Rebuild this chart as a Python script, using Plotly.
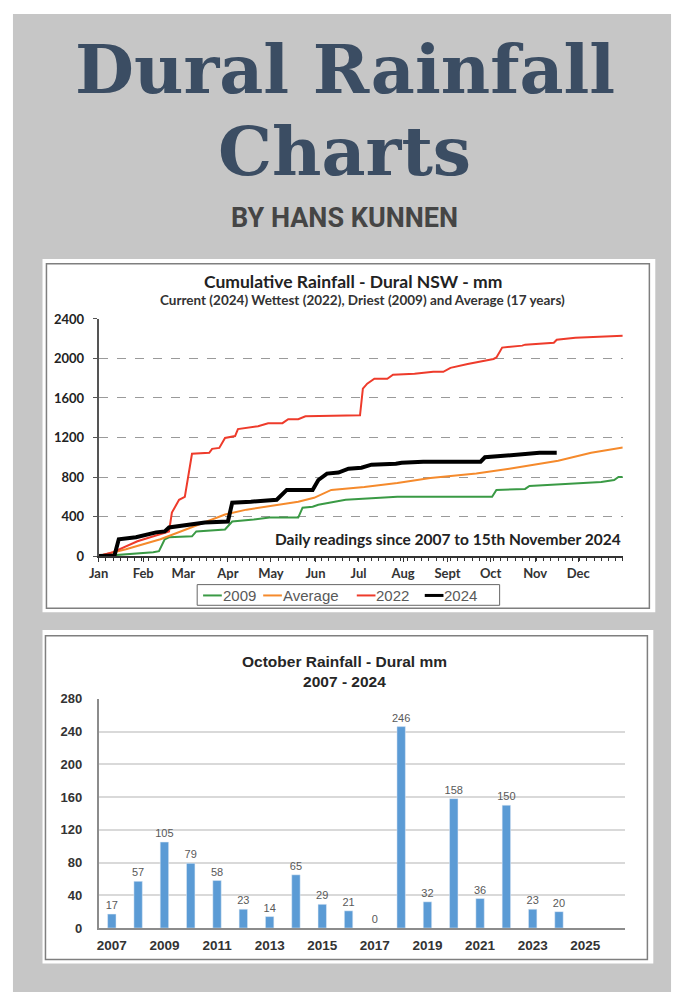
import plotly.graph_objects as go

# ---------------- data ----------------
month_days = [0, 31, 59, 90, 120, 151, 181, 212, 243, 273, 304, 334]
month_labels = ["Jan", "Feb", "Mar", "Apr", "May", "Jun", "Jul", "Aug", "Sept", "Oct", "Nov", "Dec"]

days_2009 = [0, 12, 38, 42, 46, 49, 65, 68, 88, 93, 108, 119, 139, 142, 149, 153, 172, 194, 208, 243, 274, 277, 297, 300, 332, 350, 359, 362, 365]
mm_2009 = [0, 10, 40, 50, 170, 190, 200, 250, 270, 350, 370, 390, 390, 490, 500, 520, 570, 590, 600, 600, 600, 670, 680, 710, 740, 750, 770, 800, 800]

days_avg = [0, 19, 43, 65, 88, 103, 124, 139, 150, 162, 185, 208, 231, 263, 286, 309, 320, 343, 362, 365]
mm_avg = [0, 70, 170, 290, 420, 470, 520, 550, 590, 670, 700, 740, 790, 835, 885, 935, 965, 1045, 1095, 1100]

days_2022 = [0, 10, 27, 41, 49, 51, 56, 60, 63, 65, 77, 79, 84, 88, 95, 97, 111, 118, 128, 132, 139, 144, 182, 184, 187, 192, 201, 205, 220, 233, 240, 245, 257, 270, 275, 277, 281, 295, 297, 317, 319, 332, 365]
mm_2022 = [0, 40, 150, 210, 250, 440, 570, 600, 840, 1035, 1045, 1085, 1095, 1195, 1215, 1285, 1315, 1345, 1345, 1385, 1385, 1415, 1425, 1695, 1745, 1795, 1795, 1835, 1845, 1865, 1865, 1905, 1945, 1985, 1995, 2010, 2110, 2130, 2140, 2160, 2190, 2210, 2230]

days_2024 = [0, 11, 14, 26, 40, 46, 49, 65, 74, 90, 93, 106, 124, 131, 149, 153, 159, 167, 174, 183, 190, 207, 211, 226, 266, 269, 281, 302, 307, 319]
mm_2024 = [0, 5, 170, 190, 240, 250, 290, 320, 340, 350, 540, 550, 570, 670, 670, 770, 835, 845, 885, 895, 925, 935, 945, 955, 955, 1000, 1015, 1035, 1045, 1045]

oct_years = [2007, 2008, 2009, 2010, 2011, 2012, 2013, 2014, 2015, 2016, 2017, 2018, 2019, 2020, 2021, 2022, 2023, 2024]
oct_rain = [17, 57, 105, 79, 58, 23, 14, 65, 29, 21, 0, 246, 32, 158, 36, 150, 23, 20]

series_names = ["2009", "Average", "2022", "2024"]
series_colors = ["#3a9a45", "#f58a2c", "#ee3b2b", "#000000"]
series_widths = [2, 2, 2, 4]

# ---------------- figure ----------------
W, H = 674, 1000
def px(x): return x / W
def py(y): return 1 - y / H

fig = go.Figure()

for name, d, m, c, w in zip(series_names, [days_2009, days_avg, days_2022, days_2024],
                            [mm_2009, mm_avg, mm_2022, mm_2024], series_colors, series_widths):
    fig.add_trace(go.Scatter(x=d, y=m, name=name, mode="lines", showlegend=False,
                             line=dict(color=c, width=w), xaxis="x", yaxis="y"))

fig.add_trace(go.Bar(x=oct_years, y=oct_rain, marker_color="#5b9bd5", width=0.32,
                     text=[str(v) for v in oct_rain], textposition="outside", constraintext="none",
                     textfont=dict(family="Liberation Sans", size=11, color="#595959"),
                     cliponaxis=False, showlegend=False, xaxis="x2", yaxis="y2"))

shapes = [
    dict(type="rect", xref="paper", yref="paper", x0=px(3), x1=px(671), y0=py(1000), y1=py(6),
         fillcolor="#c6c6c6", line=dict(width=0), layer="below"),
    dict(type="rect", xref="paper", yref="paper", x0=px(33), x1=px(655), y0=py(614), y1=py(255),
         fillcolor="white", line=dict(width=0), layer="below"),
    dict(type="rect", xref="paper", yref="paper", x0=px(37), x1=px(649), y0=py(610), y1=py(260),
         fillcolor="rgba(0,0,0,0)", line=dict(color="#7f7f7f", width=1.5), layer="below"),
    dict(type="rect", xref="paper", yref="paper", x0=px(33), x1=px(653), y0=py(971), y1=py(632),
         fillcolor="white", line=dict(width=0), layer="below"),
    dict(type="rect", xref="paper", yref="paper", x0=px(36), x1=px(647), y0=py(967), y1=py(638),
         fillcolor="rgba(0,0,0,0)", line=dict(color="#7f7f7f", width=1.5), layer="below"),
    # custom legend box
    dict(type="rect", xref="paper", yref="paper", x0=px(190), x1=px(497), y0=py(607), y1=py(586),
         fillcolor="white", line=dict(color="#666666", width=1)),
]

legend_line_x = [(196, 215), (257, 276), (352, 371), (421, 440)]
legend_text_x = [216, 277, 372, 441]
for (x0, x1), c, w in zip(legend_line_x, series_colors, series_widths):
    shapes.append(dict(type="line", xref="paper", yref="paper", x0=px(x0), x1=px(x1),
                       y0=py(597), y1=py(597), line=dict(color=c, width=max(2, w - 1))))

title_font = dict(family="DejaVu Serif", size=68, color="#3b4d63")
annotations = [
    dict(text="<b>Dural Rainfall</b>", x=px(340), y=py(62), xref="paper", yref="paper",
         showarrow=False, font=title_font, xanchor="center", yanchor="middle"),
    dict(text="<b>Charts</b>", x=px(340), y=py(145), xref="paper", yref="paper",
         showarrow=False, font=title_font, xanchor="center", yanchor="middle"),
    dict(text="<b>BY HANS KUNNEN</b>", x=px(340), y=py(213), xref="paper", yref="paper",
         showarrow=False, font=dict(family="Roboto", size=27, color="#454545"),
         xanchor="center", yanchor="middle"),
    dict(text="<b>Cumulative Rainfall - Dural NSW - mm</b>", x=px(348), y=py(278), xref="paper", yref="paper",
         showarrow=False, font=dict(family="Lato", size=17.5, color="#222222"),
         xanchor="center", yanchor="middle"),
    dict(text="<b>Current (2024) Wettest (2022), Driest (2009) and Average (17 years)</b>", x=px(358), y=py(297),
         xref="paper", yref="paper", showarrow=False,
         font=dict(family="Lato", size=13.5, color="#333333"), xanchor="center", yanchor="middle"),
    dict(text="<b>Daily readings since 2007 to 15th November 2024</b>", x=px(622), y=py(540),
         xref="paper", yref="paper", showarrow=False,
         font=dict(family="Lato", size=15.5, color="#222222"), xanchor="right", yanchor="middle"),
    dict(text="<b>October Rainfall - Dural mm<br>2007 - 2024</b>", x=px(340), y=py(674),
         xref="paper", yref="paper", showarrow=False,
         font=dict(family="Liberation Sans", size=15.5, color="#262626"), xanchor="center", yanchor="middle"),
]
for tx, name in zip(legend_text_x, series_names):
    annotations.append(dict(text=name, x=px(tx), y=py(597), xref="paper", yref="paper", showarrow=False,
                            font=dict(family="Liberation Sans", size=15, color="#595959"),
                            xanchor="left", yanchor="middle", xshift=-2))

fig.update_layout(
    width=W, height=H, margin=dict(l=0, r=0, t=0, b=0),
    paper_bgcolor="white", plot_bgcolor="rgba(0,0,0,0)",
    shapes=shapes, annotations=annotations, showlegend=False,
    xaxis=dict(domain=[px(90), px(622)], anchor="y", range=[0, 365],
               tickvals=month_days, ticktext=[f"<b>{m}</b>" for m in month_labels],
               tickfont=dict(family="Lato", size=13, color="#333333"),
               showgrid=False, zeroline=False, showline=True, linecolor="#333333", linewidth=2,
               ticks="outside", ticklen=4, tickcolor="#333333",
               minor=dict(dtick=5, tick0=0, ticks="outside", ticklen=3, tickcolor="#333333", showgrid=False),
               fixedrange=True),
    yaxis=dict(domain=[py(557), py(316)], anchor="x", range=[0, 2400],
               tickvals=[0, 400, 800, 1200, 1600, 2000, 2400],
               ticktext=[f"<b>{v}</b>" for v in [0, 400, 800, 1200, 1600, 2000, 2400]],
               tickfont=dict(family="Lato", size=13, color="#222222"),
               showgrid=True, gridcolor="#9a9a9a", griddash="dash", gridwidth=1,
               zeroline=False, showline=True, linecolor="#555555", linewidth=2,
               ticks="outside", ticklen=4, tickcolor="#555555", ticklabelstandoff=6),
    xaxis2=dict(domain=[px(90), px(624)], anchor="y2", range=[2006.5, 2026.5],
                tickvals=list(range(2007, 2026, 2)),
                ticktext=[f"<b>{y}</b>" for y in range(2007, 2026, 2)],
                tickfont=dict(family="Liberation Sans", size=13.5, color="#333333"),
                showgrid=False, zeroline=False, showline=True, linecolor="#8c8c8c", linewidth=1.5,
                ticks="", ticklabelstandoff=4),
    yaxis2=dict(domain=[py(935), py(702)], anchor="x2", range=[0, 280],
                tickvals=list(range(0, 281, 40)),
                ticktext=[f"<b>{v}</b>" for v in range(0, 281, 40)],
                tickfont=dict(family="Liberation Sans", size=13, color="#333333"),
                showgrid=True, gridcolor="#d9d9d9", gridwidth=1.5, zeroline=False,
                showline=True, linecolor="#8c8c8c", linewidth=1.5, ticks="", ticklabelstandoff=12),
)

fig.write_html("out.html", config={"displayModeBar": False},
               post_script="document.body.style.margin='0px';document.body.style.overflow='hidden';")
